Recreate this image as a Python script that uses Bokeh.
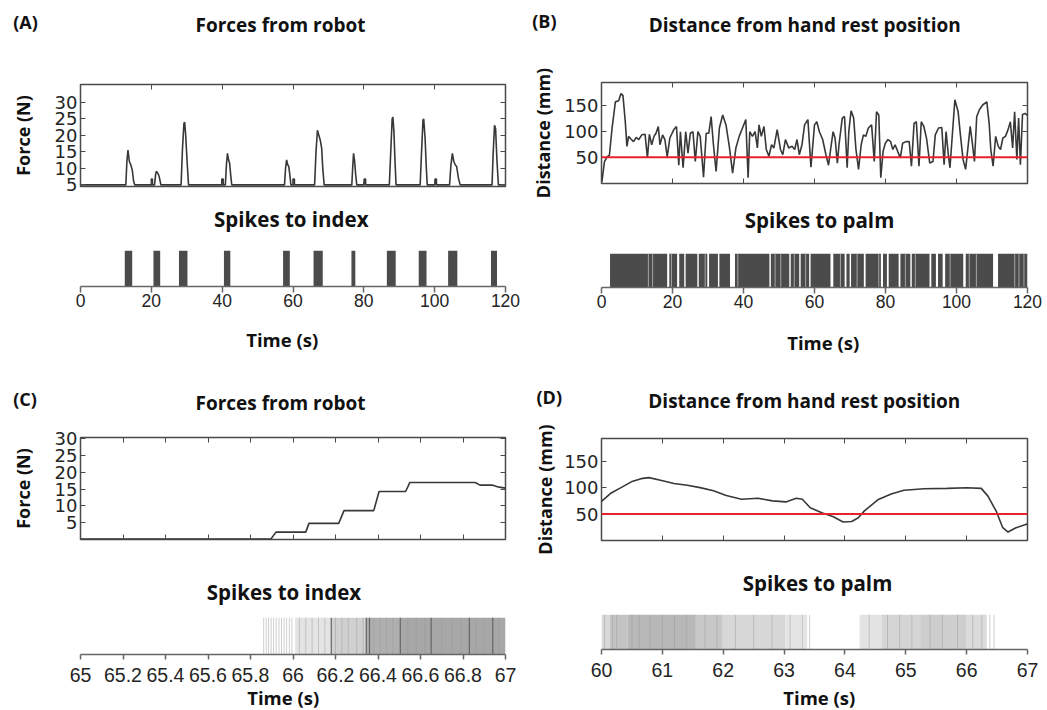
from bokeh.plotting import figure
from bokeh.layouts import row, column
from bokeh.models import Range1d, LinearAxis, FixedTicker, Label, Span, CustomJSTickFormatter
from bokeh.embed import file_html
from bokeh.resources import INLINE

# ---------------- data ----------------
# (A) force from robot over 120 s : (time s, force N)
force_a_points = [
    (0, 4.9), (12.8, 4.9), (13.1, 12), (13.4, 15.5), (13.8, 12), (14.2, 11), (14.6, 9.5), (15.0, 6), (15.3, 4.9),
    (20.0, 4.9), (20.0, 6.7), (20.3, 6.7), (20.3, 4.9),
    (20.9, 4.9), (21.2, 8), (21.4, 9), (21.8, 8.5), (22.2, 7.5), (22.7, 4.9),
    (28.4, 4.9), (28.8, 16), (29.2, 23.5), (29.4, 24), (29.7, 20), (30.1, 12), (30.5, 4.9),
    (39.9, 4.9), (39.9, 6.7), (40.3, 6.7), (40.3, 4.9),
    (40.9, 4.9), (41.2, 11), (41.5, 14.5), (41.8, 12.5), (42.1, 11.5), (42.4, 8), (42.7, 4.9),
    (57.6, 4.9), (57.9, 10), (58.2, 12.5), (58.5, 11), (58.8, 10.5), (59.1, 8), (59.4, 4.9),
    (60.0, 4.9), (60.0, 6.7), (60.4, 6.7), (60.4, 4.9),
    (66.1, 4.9), (66.5, 15), (66.9, 21.5), (67.3, 20), (67.7, 18.5), (68.1, 16), (68.4, 10), (68.8, 4.9),
    (76.6, 4.9), (76.9, 11), (77.1, 14.5), (77.4, 12), (77.7, 8), (78.0, 4.9),
    (80.1, 4.9), (80.1, 6.7), (80.5, 6.7), (80.5, 4.9),
    (87.2, 4.9), (87.6, 15), (88.0, 25), (88.2, 25.5), (88.5, 21), (88.8, 12), (89.1, 4.9),
    (95.9, 4.9), (96.3, 15), (96.7, 24.5), (96.9, 25), (97.3, 19), (97.6, 11), (97.9, 4.9),
    (100.1, 4.9), (100.1, 6.7), (100.5, 6.7), (100.5, 4.9),
    (104.2, 4.9), (104.6, 11), (105.0, 14.5), (105.4, 12), (105.8, 11), (106.2, 10.5), (106.7, 7), (107.2, 4.9),
    (116.2, 4.9), (116.5, 14), (116.9, 23), (117.2, 22), (117.6, 12), (118.0, 4.9), (120, 4.9),
]
# (A) spike bursts to index finger (start s, end s)
index_a_start = [12.5, 20.6, 27.8, 40.5, 57.2, 65.8, 76.5, 86.5, 95.5, 103.8, 115.9]
index_a_end = [14.6, 22.5, 30.2, 42.3, 59.1, 68.4, 77.6, 89.0, 97.7, 106.4, 117.6]

# (B) distance from hand rest position : (time s, mm)
dist_b_points = [
    (0.1, 3), (0.84, 42), (1.58, 51), (2.23, 54), (2.98, 106), (3.91, 156), (4.84, 158), (5.49, 172),
    (6.05, 168), (6.70, 118), (7.16, 71), (7.63, 90), (8.28, 85), (9.02, 80), (9.77, 88), (10.51, 84),
    (11.35, 93), (12.28, 94), (12.93, 49), (13.49, 94), (14.14, 74), (14.79, 90), (15.35, 96), (16.0, 109),
    (16.47, 74), (17.21, 93), (17.86, 84), (18.51, 51), (19.26, 87), (20.37, 103), (21.12, 109), (21.77, 35),
    (22.23, 99), (22.98, 30), (23.72, 99), (24.37, 58), (25.02, 96), (25.77, 99), (26.42, 42), (27.16, 99),
    (27.81, 90), (28.74, 12), (29.49, 96), (30.23, 96), (30.88, 128), (31.53, 74), (32.28, 23), (33.21, 106),
    (34.14, 131), (35.07, 112), (36.0, 71), (36.93, 20), (37.86, 68), (38.79, 90), (39.72, 106), (40.65, 122),
    (41.30, 11), (41.77, 99), (42.51, 90), (43.26, 99), (43.91, 68), (44.37, 112), (45.02, 90), (45.77, 109),
    (46.42, 65), (47.16, 52), (47.91, 74), (48.56, 68), (49.49, 103), (50.42, 65), (51.07, 55), (51.81, 84),
    (52.74, 68), (53.67, 71), (54.42, 65), (55.07, 84), (55.72, 55), (56.47, 74), (57.21, 112), (58.14, 122),
    (59.0, 31), (60.0, 112), (60.64, 118), (61.38, 99), (62.30, 84), (63.22, 55), (63.95, 35), (64.60, 68),
    (65.24, 99), (65.79, 87), (66.44, 39), (66.90, 74), (67.82, 125), (68.46, 128), (69.20, 30), (69.66, 99),
    (70.30, 139), (71.03, 125), (71.68, 65), (72.41, 27), (73.15, 74), (73.79, 93), (74.44, 90), (75.17, 106),
    (76.09, 112), (76.83, 42), (77.47, 137), (78.11, 131), (78.67, 11), (79.31, 61), (79.95, 77), (80.69, 84),
    (81.43, 80), (82.07, 65), (82.71, 74), (83.45, 61), (84.18, 49), (84.83, 77), (85.75, 80), (86.67, 80),
    (87.31, 33), (88.05, 115), (88.69, 118), (89.43, 33), (90.07, 118), (90.80, 109), (91.54, 87), (92.46, 39),
    (93.38, 42), (94.02, 93), (94.94, 106), (95.86, 107), (96.51, 36), (97.06, 99), (97.70, 55), (98.16, 30),
    (99.54, 160), (100.46, 137), (101.10, 93), (101.84, 46), (102.57, 27), (103.22, 68), (103.86, 109),
    (104.41, 80), (105.06, 42), (105.70, 128), (106.44, 141), (107.36, 150), (108.55, 156), (109.20, 115),
    (109.66, 65), (110.30, 33), (111.03, 90), (111.77, 71), (112.41, 65), (113.06, 87), (113.79, 90),
    (114.53, 103), (115.17, 118), (115.82, 68), (116.37, 137), (117.01, 46), (117.5, 125), (118.0, 36),
    (118.6, 132), (119.3, 134), (120.0, 130),
]
threshold_mm = 50
# (B) spike bursts to palm (start s, end s) and faint single spikes inside the raster
palm_b_start = [2.4, 19.1, 21.9, 23.7, 27.4, 30.3, 33.2, 37.6, 47.7, 53.3, 56.1, 58.9, 65.3, 69.0, 70.3,
                74.4, 79.3, 80.9, 84.2, 87.4, 92.9, 94.8, 96.8, 102.6, 111.7]
palm_b_end = [18.5, 21.3, 23.3, 27.0, 29.8, 32.8, 36.2, 47.3, 52.9, 55.7, 58.5, 64.5, 68.5, 69.9, 73.9,
              78.7, 80.4, 83.7, 87.0, 92.4, 94.2, 96.1, 101.9, 110.3, 120.0]
palm_b_light = [13.2, 14.4, 19.7, 29.2, 38.4, 48.9, 50.5, 54.3, 57.5, 67.3, 72.0, 78.1, 85.6, 88.4,
                98.2, 103.6, 105.6, 116.4, 117.6, 119.0]

# (C) force from robot, zoom 65-67 s : (time s, force N)
force_c_points = [
    (65.0, 0.1), (65.895, 0.1), (65.92, 2.2), (66.06, 2.2), (66.075, 4.8), (66.215, 4.8), (66.24, 8.6),
    (66.38, 8.6), (66.405, 14.3), (66.53, 14.3), (66.55, 17.0), (66.857, 17.0), (66.88, 16.2),
    (66.94, 16.2), (66.97, 15.6), (67.0, 15.3),
]
# (C) spikes to index: sparse single spikes, dense bands (start, end, shade), darker spikes
index_c_sparse = [65.862, 65.874, 65.885, 65.897, 65.909, 65.921, 65.934, 65.946, 65.958, 65.970, 65.983, 65.995]
index_c_band_start = [66.01, 66.18, 66.345, 66.505]
index_c_band_end = [66.18, 66.345, 66.505, 67.0]
index_c_band_shade = ["#e4e4e4", "#d0d0d0", "#afafaf", "#a7a7a7"]
index_c_texture = [66.03, 66.06, 66.09, 66.12, 66.15, 66.2, 66.23, 66.26, 66.3, 66.33, 66.38, 66.41, 66.44,
                   66.47, 66.54, 66.58, 66.62, 66.7, 66.75, 66.79, 66.86, 66.9, 66.97]
index_c_dark = [66.18, 66.345, 66.36, 66.505, 66.65, 66.83, 66.94]

# (D) distance, zoom 60-67 s : (time s, mm)
dist_d_points = [
    (60.0, 74), (60.16, 90), (60.32, 100), (60.49, 111), (60.65, 117), (60.78, 119), (60.97, 114),
    (61.19, 108), (61.41, 104.5), (61.62, 100), (61.84, 94), (62.05, 85), (62.30, 78), (62.57, 80),
    (62.81, 75), (63.03, 73), (63.20, 80), (63.30, 78), (63.43, 62), (63.62, 52.5), (63.81, 45),
    (63.97, 35), (64.11, 36), (64.22, 43), (64.32, 56), (64.54, 77), (64.76, 88), (64.97, 95),
    (65.30, 98), (65.68, 98.6), (66.00, 99.8), (66.24, 98.6), (66.35, 84), (66.49, 54.5), (66.59, 25),
    (66.68, 16), (66.81, 24), (66.97, 30.5), (67.0, 31),
]
# (D) spikes to palm: bands (start, end, shade) and single spikes
palm_d_band_start = [60.0, 60.14, 60.43, 61.55, 61.98, 63.02, 64.24, 64.6, 65.25, 66.0]
palm_d_band_end = [60.14, 60.43, 61.55, 61.98, 63.02, 63.38, 64.6, 65.25, 66.0, 66.33]
palm_d_band_shade = ["#d9d9d9", "#c3c3c3", "#b8b8b8", "#c7c7c7", "#d7d7d7", "#e5e5e5",
                     "#e3e3e3", "#d5d5d5", "#cecece", "#dbdbdb"]
palm_d_texture = [60.05, 60.18, 60.25, 60.5, 60.62, 60.8, 61.0, 61.2, 61.4, 61.7, 61.9, 62.2, 62.5, 62.8,
                  63.1, 63.3, 64.4, 64.7, 64.9, 65.1, 65.4, 65.6, 65.85, 66.1, 66.25]
palm_d_sparse = [63.42, 66.38, 66.45]

# ticks
ticks_ab_x = [0, 20, 40, 60, 80, 100, 120]
ticks_c_x = [65.0, 65.2, 65.4, 65.6, 65.8, 66.0, 66.2, 66.4, 66.6, 66.8, 67.0]
ticks_c_labels = ["65", "65.2", "65.4", "65.6", "65.8", "66", "66.2", "66.4", "66.6", "66.8", "67"]
ticks_d_x = [60, 61, 62, 63, 64, 65, 66, 67]
ticks_force_y = [5, 10, 15, 20, 25, 30]
ticks_dist_y = [50, 100, 150]

# ---------------- styling ----------------
FRAME = "#4a4a4a"
AXIS = "#666666"
LINE = "#383838"
RED = "#e8222c"
SPIKE = "#4b4b4b"
TXT = "#111111"
TICKTXT = "#242424"
TFONT = "Open Sans"
YFONT = "DejaVu Sans"
XFONT = "Liberation Sans"


def blank_axis(ax):
    ax.formatter = CustomJSTickFormatter(code="return ''")
    ax.major_label_text_font_size = "1px"
    ax.major_label_standoff = 0
    ax.major_tick_in = 5
    ax.major_tick_out = 0
    ax.major_tick_line_color = FRAME
    ax.minor_tick_line_color = None
    ax.axis_line_color = None


def add_text(p, x, y, text, size, align="center"):
    # placed in the panel above the frame (not clipped); x from frame left, y up from panel bottom
    p.add_layout(Label(x=x, y=y, x_units="screen", y_units="screen", text=text,
                       text_font=TFONT, text_font_style="bold", text_font_size=size,
                       text_color=TXT, text_align=align, text_baseline="middle"), "above")


def force_panel(w, h, borders, xr, yr, xticks, yticks, ylabel, ylabel_standoff):
    top, right, bottom, left = borders
    p = figure(width=w, height=h, x_range=Range1d(*xr), y_range=Range1d(*yr),
               output_backend="svg", toolbar_location=None, tools="",
               min_border_top=top, min_border_right=right,
               min_border_bottom=bottom, min_border_left=left)
    p.xgrid.visible = False
    p.ygrid.visible = False
    p.outline_line_color = FRAME
    p.outline_line_width = 1.5
    xa = p.xaxis[0]
    xa.ticker = FixedTicker(ticks=xticks)
    blank_axis(xa)
    ya = p.yaxis[0]
    ya.ticker = FixedTicker(ticks=yticks)
    ya.major_tick_in = 5
    ya.major_tick_out = 0
    ya.major_tick_line_color = FRAME
    ya.minor_tick_line_color = None
    ya.axis_line_color = None
    ya.major_label_standoff = 3
    ya.major_label_text_font = YFONT
    ya.major_label_text_font_size = "18px"
    ya.major_label_text_color = TICKTXT
    ya.axis_label = ylabel
    ya.axis_label_text_font = TFONT
    ya.axis_label_text_font_style = "bold"
    ya.axis_label_text_font_size = "18px"
    ya.axis_label_text_color = TXT
    ya.axis_label_standoff = ylabel_standoff
    top_ax = LinearAxis(ticker=FixedTicker(ticks=xticks))
    blank_axis(top_ax)
    p.add_layout(top_ax, "above")
    right_ax = LinearAxis(ticker=FixedTicker(ticks=yticks))
    blank_axis(right_ax)
    p.add_layout(right_ax, "right")
    return p


def spike_panel(w, h, borders, xr, xticks, size, tick_out, standoff, labels=None):
    top, right, bottom, left = borders
    p = figure(width=w, height=h, x_range=Range1d(*xr), y_range=Range1d(0, 1),
               y_axis_location=None, output_backend="svg", toolbar_location=None, tools="",
               min_border_top=top, min_border_right=right,
               min_border_bottom=bottom, min_border_left=left)
    p.xgrid.visible = False
    p.ygrid.visible = False
    p.outline_line_color = None
    xa = p.xaxis[0]
    xa.ticker = FixedTicker(ticks=xticks)
    if labels is not None:
        xa.major_label_overrides = dict(zip(xticks, labels))
    xa.major_tick_in = 0
    xa.major_tick_out = tick_out
    xa.major_tick_line_color = AXIS
    xa.major_tick_line_width = 1.5
    xa.minor_tick_line_color = None
    xa.axis_line_color = AXIS
    xa.axis_line_width = 1.5
    xa.major_label_standoff = standoff
    xa.major_label_text_font = XFONT
    xa.major_label_text_font_size = size
    xa.major_label_text_color = TICKTXT
    return p


def xs(points):
    return [a for a, b in points]


def ys(points):
    return [b for a, b in points]


WL, WR = 520, 527

# ---- (A) force ----
pA = force_panel(WL, 195, (84, 10, 9, 79), (0, 120), (4.4, 35.4), ticks_ab_x, ticks_force_y, "Force (N)", 17)
pA.line(xs(force_a_points), ys(force_a_points), line_color=LINE, line_width=1.6)
add_text(pA, 200, 60, "Forces from robot", "19px")
add_text(pA, -67.3, 36.9, "(A)", "18px", align="left")

# ---- (A) spikes ----
pAs = spike_panel(WL, 160, (55, 9, 69, 80), (0, 120), ticks_ab_x, "17.5px", 6, 1)
pAs.quad(left=index_a_start, right=index_a_end, bottom=0, top=1, fill_color=SPIKE, line_color=None)
add_text(pAs, 210.8, 31.3, "Spikes to index", "20.5px")
add_text(pAs, 201.7, -117.1, "Time (s)", "18.5px")

# ---- (B) distance ----
pB = force_panel(WR, 200, (82, 17, 17, 81), (0, 120), (0, 193), ticks_ab_x, ticks_dist_y, "Distance (mm)", 6)
pB.line(xs(dist_b_points), ys(dist_b_points), line_color=LINE, line_width=1.6)
pB.add_layout(Span(location=threshold_mm, dimension="width", line_color=RED, line_width=2))
add_text(pB, 203.2, 58, "Distance from hand rest position", "19px")
add_text(pB, -69.3, 35.7, "(B)", "18px", align="left")

# ---- (B) spikes ----
pBs = spike_panel(WR, 155, (51, 17, 68, 80), (0, 120), ticks_ab_x, "17.5px", 6, 1)
pBs.quad(left=palm_b_start, right=palm_b_end, bottom=0, top=1, fill_color=SPIKE, line_color=None)
pBs.segment(x0=palm_b_light, y0=0, x1=palm_b_light, y1=1, line_color="#a6a6a6", line_width=1)
add_text(pBs, 218, 33.5, "Spikes to palm", "20.5px")
add_text(pBs, 221.7, -116.9, "Time (s)", "18.5px")

# ---- (C) force zoom ----
pC = force_panel(WL, 190, (82, 13, 6, 79), (65, 67), (0, 30.4), ticks_c_x, ticks_force_y, "Force (N)", 17)
pC.line(xs(force_c_points), ys(force_c_points), line_color=LINE, line_width=1.6)
add_text(pC, 200, 34.5, "Forces from robot", "19px")
add_text(pC, -67.3, 12.2, "(C)", "18px", align="left")

# ---- (C) spikes ----
pCs = spike_panel(WL, 164, (72, 15, 55, 79), (65, 67), ticks_c_x, "19.5px", 5, 8, labels=ticks_c_labels)
pCs.segment(x0=index_c_sparse, y0=0, x1=index_c_sparse, y1=1, line_color="#cfcfcf", line_width=1)
pCs.quad(left=index_c_band_start, right=index_c_band_end, bottom=0, top=1,
         fill_color=index_c_band_shade, line_color=None)
pCs.segment(x0=index_c_texture, y0=0, x1=index_c_texture, y1=1, line_color="#9a9a9a", line_width=1, line_alpha=0.45)
pCs.segment(x0=index_c_dark, y0=0, x1=index_c_dark, y1=1, line_color="#666666", line_width=1.2)
add_text(pCs, 203.5, 25.5, "Spikes to index", "20.5px")
add_text(pCs, 202.7, -107.6, "Time (s)", "18.5px")

# ---- (D) distance zoom ----
pD = force_panel(WR, 200, (83, 17, 15, 78), (60, 67), (0, 193), ticks_d_x, ticks_dist_y, "Distance (mm)", 4)
pD.line(xs(dist_d_points), ys(dist_d_points), line_color=LINE, line_width=1.6)
pD.add_layout(Span(location=threshold_mm, dimension="width", line_color=RED, line_width=2))
add_text(pD, 202.8, 38, "Distance from hand rest position", "19px")
add_text(pD, -65, 15.9, "(D)", "18px", align="left")

# ---- (D) spikes ----
pDs = spike_panel(WR, 154, (59, 20, 60, 78), (60, 67), ticks_d_x, "19.5px", 5, 8)
pDs.quad(left=palm_d_band_start, right=palm_d_band_end, bottom=0, top=1,
         fill_color=palm_d_band_shade, line_color=None)
pDs.segment(x0=palm_d_texture, y0=0, x1=palm_d_texture, y1=1, line_color="#9a9a9a", line_width=1, line_alpha=0.45)
pDs.segment(x0=palm_d_sparse, y0=0, x1=palm_d_sparse, y1=1, line_color="#d0d0d0", line_width=1)
add_text(pDs, 216, 31.3, "Spikes to palm", "20.5px")
add_text(pDs, 217.8, -110.6, "Time (s)", "18.5px")

layout = row(column(pA, pAs, pC, pCs), column(pB, pBs, pD, pDs))
open("out.html", "w").write(file_html(layout, INLINE, title="Robot forces and hand distance"))
